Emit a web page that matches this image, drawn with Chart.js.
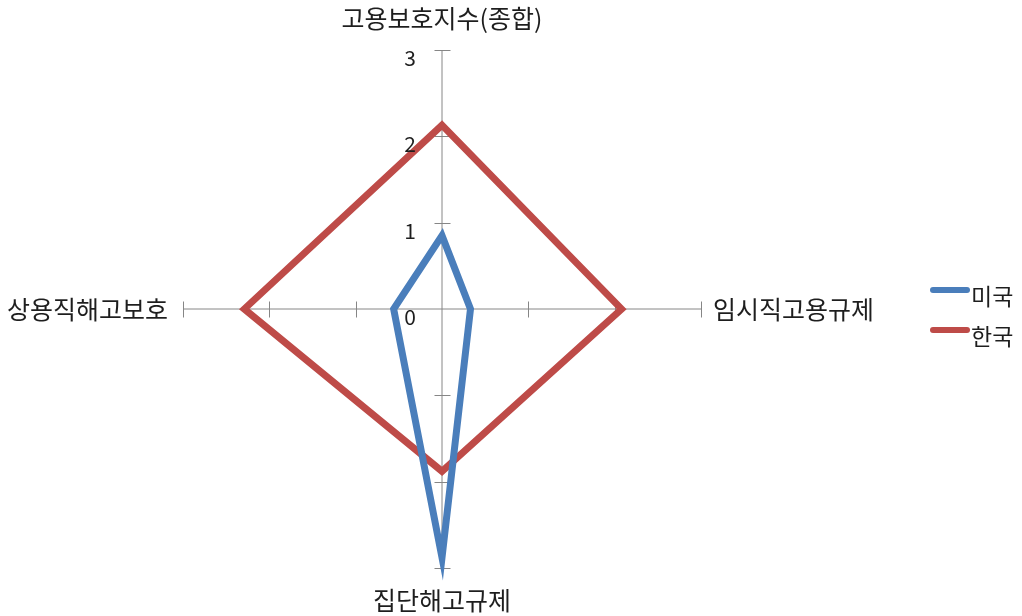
<!DOCTYPE html>
<html>
<head>
<meta charset="utf-8">
<script src="https://cdn.jsdelivr.net/npm/chart.js@4/dist/chart.umd.min.js"></script>
<style>
  html, body { margin: 0; padding: 0; background: #ffffff; }
  #wrap { width: 1022px; height: 616px; position: relative; }
</style>
</head>
<body>
<div id="wrap"><canvas id="c" width="1022" height="616"></canvas></div>
<script>
// ---- data ----
const categories = ['고용보호지수(종합)', '임시직고용규제', '집단해고규제', '상용직해고보호'];
const seriesNames = ['미국', '한국'];
const usValues = [0.85, 0.33, 2.88, 0.56];
const koreaValues = [2.13, 2.08, 1.88, 2.29];
const tickValues = [0, 1, 2, 3];

// ---- styles ----
const BLUE = '#4a7ebb';
const RED = '#be4b48';
const TEXT = '#1e1e1e';
const AXIS = '#868686';
const FONT = '"Noto Sans CJK KR", "Noto Sans", sans-serif';

const decor = {
  id: 'decor',
  beforeDatasetsDraw(chart) {
    const s = chart.scales.r;
    const ctx = chart.ctx;
    ctx.save();
    ctx.strokeStyle = AXIS;
    ctx.lineWidth = 1;
    const n = chart.data.labels.length;
    for (let i = 0; i < n; i++) {
      for (const v of tickValues) {
        if (v === 0) continue;
        const p = s.getPointPositionForValue(i, v);
        const a = p.angle;
        const dx = -Math.sin(a) * 8, dy = Math.cos(a) * 8;
        ctx.beginPath();
        ctx.moveTo(Math.round(p.x + dx) + 0.5, Math.round(p.y + dy) + 0.5);
        ctx.lineTo(Math.round(p.x - dx) + 0.5, Math.round(p.y - dy) + 0.5);
        ctx.stroke();
      }
    }
    ctx.restore();
  },
  afterDraw(chart) {
    const s = chart.scales.r;
    const ctx = chart.ctx;
    ctx.save();
    ctx.fillStyle = TEXT;
    // tick labels along the first axis
    ctx.font = '21px ' + FONT;
    ctx.textAlign = 'right';
    ctx.textBaseline = 'middle';
    for (const v of tickValues) {
      const p = s.getPointPositionForValue(0, v);
      ctx.fillText(String(v), p.x - 26, p.y + 8);
    }
    // category labels
    ctx.font = '25px ' + FONT;
    const labels = chart.data.labels;
    const maxV = s.max;
    labels.forEach((lab, i) => {
      const p = s.getPointPositionForValue(i, maxV);
      if (i === 0) { ctx.textAlign = 'center'; ctx.fillText(lab, p.x, p.y - 32); }
      else if (i === 1) { ctx.textAlign = 'left'; ctx.fillText(lab, p.x + 12, p.y); }
      else if (i === 2) { ctx.textAlign = 'center'; ctx.fillText(lab, p.x, p.y + 32); }
      else { ctx.textAlign = 'right'; ctx.fillText(lab, p.x - 15, p.y); }
    });
    // legend
    ctx.font = '23px ' + FONT;
    ctx.textAlign = 'left';
    chart.data.datasets.forEach((ds, i) => {
      const y = 290 + i * 40;
      ctx.fillStyle = ds.borderColor;
      ctx.beginPath();
      ctx.roundRect(930, y - 3, 40, 6, 3);
      ctx.fill();
      ctx.fillStyle = TEXT;
      ctx.fillText(ds.label, 971, y + 6);
    });
    ctx.restore();
  }
};

new Chart(document.getElementById('c'), {
  type: 'radar',
  data: {
    labels: categories,
    datasets: [
      { label: seriesNames[0], data: usValues, borderColor: BLUE, backgroundColor: BLUE, borderWidth: 7, fill: false, pointRadius: 0, pointHoverRadius: 0 },
      { label: seriesNames[1], data: koreaValues, borderColor: RED, backgroundColor: RED, borderWidth: 7, fill: false, pointRadius: 0, pointHoverRadius: 0 }
    ]
  },
  options: {
    responsive: false,
    animation: false,
    layout: { padding: { left: 183, right: 321, top: 50, bottom: 48 } },
    elements: { line: { tension: 0, borderJoinStyle: 'miter' } },
    plugins: { legend: { display: false }, tooltip: { enabled: false } },
    scales: {
      r: {
        min: 0, max: 3,
        ticks: { display: false, stepSize: 1 },
        grid: { display: false },
        angleLines: { display: true, color: AXIS, lineWidth: 1 },
        pointLabels: { display: false }
      }
    }
  },
  plugins: [decor]
});
</script>
</body>
</html>
